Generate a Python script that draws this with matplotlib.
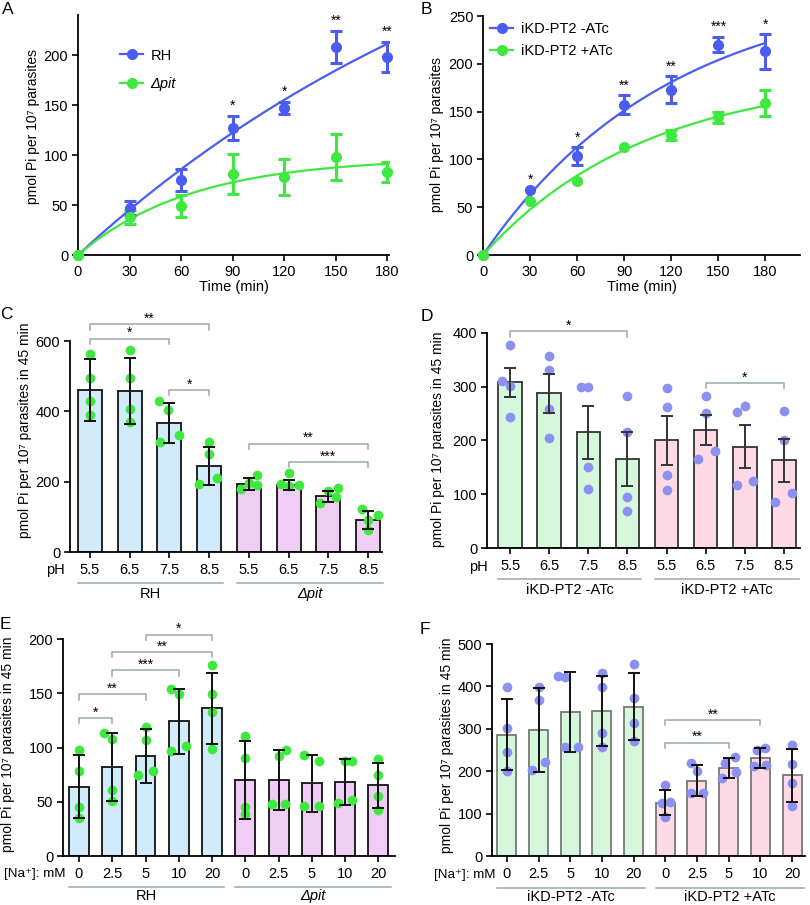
import numpy as np
import matplotlib
matplotlib.use('Agg')
import matplotlib.pyplot as plt
from matplotlib.transforms import blended_transform_factory

plt.rcParams['font.family'] = ['Liberation Sans', 'DejaVu Sans']
plt.rcParams['axes.linewidth'] = 1.3

W, H = 810, 905

# ---- panel A / B : uptake over time ----
time = [0, 30, 60, 90, 120, 150, 180]
a_rh = [0, 47, 75, 127, 147, 208, 198]
a_rh_err = [0, 7, 11, 12, 6, 16, 15]
a_pit = [0, 38, 49, 81, 78, 98, 83]
a_pit_err = [0, 7, 11, 20, 18, 23, 10]
a_stars = ['', '', '', '*', '*', '**', '**']

b_minus = [0, 68, 103.5, 157, 173, 220, 213]
b_minus_err = [0, 0, 9, 10, 14, 8, 18]
b_plus = [0, 56, 77, 113, 125.5, 144, 159]
b_plus_err = [0, 0, 0, 0, 5, 6, 14]
b_stars = ['', '*', '*', '**', '**', '***', '*']

# ---- panel C : pH, RH vs dpit ----
ph = ['5.5', '6.5', '7.5', '8.5']
c_mean = [460, 457, 367, 245, 194, 190, 158, 92]
c_err = [88, 94, 57, 55, 17, 15, 16, 26]
c_pts = [[564, 496, 429, 389], [573, 496, 408, 370], [429, 403, 332, 313], [313, 278, 211, 194],
         [218, 196, 190, 178], [225, 194, 191, 189], [182, 173, 156, 140], [123, 104, 90, 62]]
c_sig = [(0, 3, 647, '**'), (0, 2, 607, '*'), (2, 3, 460, '*'), (4, 7, 308, '**'), (5, 7, 256, '***')]

# ---- panel D : pH, iKD-PT2 ----
d_mean = [308, 288, 215, 165, 200, 220, 188, 163]
d_err = [27, 36, 50, 50, 46, 28, 40, 40]
d_pts = [[377, 311, 302, 244], [358, 332, 259, 205], [300, 300, 150, 110], [283, 215, 94, 68],
         [298, 262, 135, 107], [283, 251, 166, 180], [264, 253, 125, 118], [254, 200, 102, 86]]
d_sig = [(0, 3, 403, '*'), (5, 7, 307, '*')]

# ---- panel E : Na+, RH vs dpit ----
na = ['0', '2.5', '5', '10', '20']
e_mean = [64, 82, 92, 124, 136, 70, 70, 67, 68, 65]
e_err = [29, 31, 25, 30, 33, 36, 28, 26, 21, 21]
e_pts = [[98, 78, 45, 35], [113, 108, 61, 51], [119, 107, 78, 75], [154, 149, 101, 97], [176, 149, 133, 99],
         [111, 90, 45, 39], [98, 92, 48, 48], [93, 88, 46, 46], [88, 88, 52, 49], [89, 75, 55, 42]]
e_sig = [(0, 1, 127, '*'), (0, 2, 149, '**'), (1, 3, 171, '***'), (1, 4, 188, '**'), (2, 4, 204, '*')]

# ---- panel F : Na+, iKD-PT2 ----
f_mean = [286, 297, 340, 342, 352, 126, 178, 207, 231, 190]
f_err = [84, 99, 95, 83, 79, 30, 37, 24, 23, 62]
f_pts = [[398, 303, 245, 201], [399, 368, 222, 204], [425, 421, 258, 258], [431, 398, 289, 258], [454, 372, 313, 272],
         [167, 127, 124, 93], [219, 200, 149, 148], [234, 219, 197, 185], [254, 251, 215, 213], [262, 216, 171, 119]]
f_sig = [(5, 7, 267, '**'), (5, 8, 321, '**')]

# horizontal spread of the dots inside each bar (layout only)
c_jit = [[0, 0, 0, 0], [0, 0, 0, 0], [-0.25, -0.04, 0.23, -0.24], [0, 0, 0.21, -0.25],
         [0.2, 0, 0.2, -0.2], [0, -0.2, 0.25, 0], [0.25, 0, 0.2, -0.2], [-0.15, 0.25, 0, 0]]
d_jit = [[0, -0.2, 0, 0], [0, 0, 0, 0], [-0.2, 0, 0, 0], [0, 0, 0, 0],
         [0, 0, 0, 0], [0, 0, -0.2, 0.25], [0, -0.2, 0.22, -0.2], [0, 0, 0.2, -0.23]]
e_jit = [[0, 0, 0, 0], [-0.25, 0, 0, 0], [0, 0, 0.23, -0.24], [-0.22, 0, 0.23, -0.22], [0, 0, 0, 0],
         [0, 0, 0, 0], [0.22, 0, -0.2, 0.2], [-0.25, 0.23, -0.25, 0.22], [0, 0.2, 0.2, -0.22], [0, 0, 0, 0]]
f_jit = [[0, 0, 0, 0], [0, 0, 0.2, -0.22], [-0.4, -0.15, -0.15, 0.25], [0, 0, 0, 0], [0, 0, 0, 0],
         [0, 0.15, -0.1, 0], [-0.2, 0, 0.2, -0.2], [0.2, -0.1, 0.22, -0.22], [0.15, -0.12, 0.18, -0.2], [0, 0, 0, 0]]

BLUE = '#4b5cf0'
GREEN = '#3fe83f'
DOT = '#8c90f0'
GREY = '#98a8ac'


def box(l, t, r, b):
    return [l / W, 1 - b / H, (r - l) / W, (b - t) / H]


def style(ax):
    ax.spines['top'].set_visible(False)
    ax.spines['right'].set_visible(False)
    ax.tick_params(length=4, width=1.2, labelsize=10.5, pad=3)


def fit_assoc(t, y):
    # one phase association Y = Ymax*(1-exp(-k t)), least squares on a k grid
    t = np.asarray(t, float)
    y = np.asarray(y, float)
    best = None
    for k in np.linspace(0.0005, 0.05, 3000):
        f = 1 - np.exp(-k * t)
        ym = (f @ y) / (f @ f)
        sse = ((y - ym * f) ** 2).sum()
        if best is None or sse < best[0]:
            best = (sse, ym, k)
    return best[1], best[2]


def time_panel(ax, s1, e1, s2, e2, labels, stars, xmax, ymax, ystep, leg_anchor, leg_space):
    tt = np.linspace(0, 180, 300)
    hs = []
    for s, e, c, lab in [(s1, e1, BLUE, labels[0]), (s2, e2, GREEN, labels[1])]:
        ym, k = fit_assoc(time, s)
        ax.plot(tt, ym * (1 - np.exp(-k * tt)), color=c, lw=1.6, zorder=2)
        e = np.asarray(e)
        idx = e > 0
        ax.errorbar(np.asarray(time)[idx], np.asarray(s)[idx], yerr=e[idx], fmt='none',
                    ecolor=c, elinewidth=2.2, capsize=4.5, capthick=2.2, zorder=3)
        ax.plot(time, s, 'o', color=c, ms=7, clip_on=False, zorder=4)
        h, = ax.plot([], [], '-o', color=c, ms=7, lw=1.6, label=lab)
        hs.append(h)
    for t, a, ea, b, eb, st in zip(time, s1, e1, s2, e2, stars):
        if st:
            ax.annotate(st, (t, max(a + ea, b + eb)), xytext=(0, 2), textcoords='offset points',
                        ha='center', va='bottom', fontsize=10, annotation_clip=False)
    ax.set_xlim(0, xmax)
    ax.set_ylim(0, ymax)
    ax.set_xticks(time)
    ax.set_yticks(np.arange(0, 201 if ymax < 250 else 251, ystep))
    ax.set_xlabel('Time (min)', fontsize=10.5, labelpad=1)
    style(ax)
    leg = ax.legend(handles=hs, loc='upper left', bbox_to_anchor=leg_anchor, frameon=False,
                    fontsize=10.5, handlelength=1.6, handletextpad=0.5, labelspacing=leg_space,
                    borderpad=0, borderaxespad=0)
    return leg


def bar_panel(ax, ticks, mean, err, pts, jit, fills, edge, ecol, dot, ymax, ystep, sig, xlim):
    n = len(mean)
    x = np.arange(n)
    half = n // 2
    colors = [fills[0]] * half + [fills[1]] * half
    ax.bar(x, mean, width=0.6, color=colors, edgecolor=edge, linewidth=1.3, zorder=2)
    for i in range(n):
        ax.plot(x[i] + np.asarray(jit[i]), pts[i], 'o', color=dot, ms=7, mec='none', zorder=3, clip_on=False)
    ax.errorbar(x, mean, yerr=err, fmt='none', ecolor=ecol, elinewidth=1.4, capsize=4.5, capthick=1.4, zorder=4)
    leg = 0.024 * ymax
    for i, j, y, lab in sig:
        ax.plot([x[i], x[i], x[j], x[j]], [y - leg, y, y, y - leg], color=GREY, lw=1.1, clip_on=False)
        ax.annotate(lab, ((x[i] + x[j]) / 2, y), xytext=(0, -1), textcoords='offset points',
                    ha='center', va='bottom', fontsize=10, annotation_clip=False)
    ax.set_xlim(*xlim)
    ax.set_ylim(0, ymax)
    ax.set_yticks(np.arange(0, ymax + 1, ystep))
    ax.set_xticks(x)
    ax.set_xticklabels(ticks * 2)
    style(ax)
    ax.tick_params(axis='x', pad=4)


def group_labels(fig, ax, n, prefix, px, py, line_y, lab_y, names, italic, pfs=10.5):
    tr = blended_transform_factory(ax.transData, fig.transFigure)
    fig.text(px / W, 1 - py / H, prefix, ha='right', va='center', fontsize=pfs)
    half = n // 2
    spans = [(-0.3, half - 1 + 0.35), (half - 0.3, n - 1 + 0.38)]
    for (a, b), name, it in zip(spans, names, italic):
        ax.plot([a, b], [1 - line_y / H] * 2, color=GREY, lw=1.1, transform=tr, clip_on=False)
        ax.text((a + b) / 2, 1 - lab_y / H, name, transform=tr, ha='center', va='center',
                fontsize=10.5, style='italic' if it else 'normal')


fig = plt.figure(figsize=(W / 100, H / 100), dpi=100)

ylab_a = 'pmol Pi per 10\u2077 parasites'
ylab_c = 'pmol Pi per 10\u2077 parasites in 45 min'

# A
axA = fig.add_axes(box(78, 15, 389, 255))
time_panel(axA, a_rh, a_rh_err, a_pit, a_pit_err, ['RH', '\u0394pit'], a_stars, 181, 240, 50,
           (0.135, 0.86), 1.0)
leg_texts = axA.get_legend().get_texts()
leg_texts[1].set_style('italic')
fig.text(33 / W, 1 - 126 / H, ylab_a, rotation=90, ha='center', va='center', fontsize=10)

# B
axB = fig.add_axes(box(483, 16, 800, 255))
time_panel(axB, b_minus, b_minus_err, b_plus, b_plus_err, ['iKD-PT2 -ATc', 'iKD-PT2 +ATc'], b_stars,
           202, 250, 50, (0.022, 0.975), 0.55)
fig.text(437 / W, 1 - 134 / H, ylab_a, rotation=90, ha='center', va='center', fontsize=10)

# C
axC = fig.add_axes(box(70, 341, 382, 552))
bar_panel(axC, ph, c_mean, c_err, c_pts, c_jit, ['#d2ebfa', '#f0cdf4'], '#111111', '#111111', GREEN,
          600, 200, c_sig, (-0.5, 7.35))
group_labels(fig, axC, 8, 'pH', 65, 570, 583, 594, ['RH', '\u0394pit'], [False, True])
fig.text(25 / W, 1 - 430 / H, ylab_c, rotation=90, ha='center', va='center', fontsize=10)

# D
axD = fig.add_axes(box(487, 333, 800, 548))
bar_panel(axD, ph, d_mean, d_err, d_pts, d_jit, ['#d5f8dc', '#fddae5'], '#333333', '#333333', DOT,
          400, 100, d_sig, (-0.59, 7.41))
group_labels(fig, axD, 8, 'pH', 488, 567, 579, 590, ['iKD-PT2 -ATc', 'iKD-PT2 +ATc'], [False, False])
fig.text(438 / W, 1 - 439 / H, ylab_c, rotation=90, ha='center', va='center', fontsize=10)

# E
axE = fig.add_axes(box(63, 639, 395, 856))
bar_panel(axE, na, e_mean, e_err, e_pts, e_jit, ['#d2ebfa', '#f0cdf4'], '#111111', '#111111', GREEN,
          200, 50, e_sig, (-0.48, 9.5))
group_labels(fig, axE, 10, '[Na\u207a]: mM', 66, 874, 887, 896, ['RH', '\u0394pit'], [False, True], pfs=9.6)
fig.text(8 / W, 1 - 744 / H, ylab_c, rotation=90, ha='center', va='center', fontsize=10)

# F
axF = fig.add_axes(box(492, 644, 805, 856))
bar_panel(axF, na, f_mean, f_err, f_pts, f_jit, ['#d5f8dc', '#fddae5'], '#777777', '#111111', DOT,
          500, 100, f_sig, (-0.47, 9.41))
group_labels(fig, axF, 10, '[Na\u207a]: mM', 495, 875, 888, 897, ['iKD-PT2 -ATc', 'iKD-PT2 +ATc'], [False, False],
             pfs=9.6)
fig.text(447 / W, 1 - 745 / H, ylab_c, rotation=90, ha='center', va='center', fontsize=10)

for lab, x, y in [('A', 2, 2), ('B', 421, 2), ('C', 0, 307), ('D', 421, 309), ('E', 0, 617), ('F', 420, 622)]:
    fig.text(x / W, 1 - y / H, lab, ha='left', va='top', fontsize=12.5)

fig.savefig('out.png', dpi=100)
